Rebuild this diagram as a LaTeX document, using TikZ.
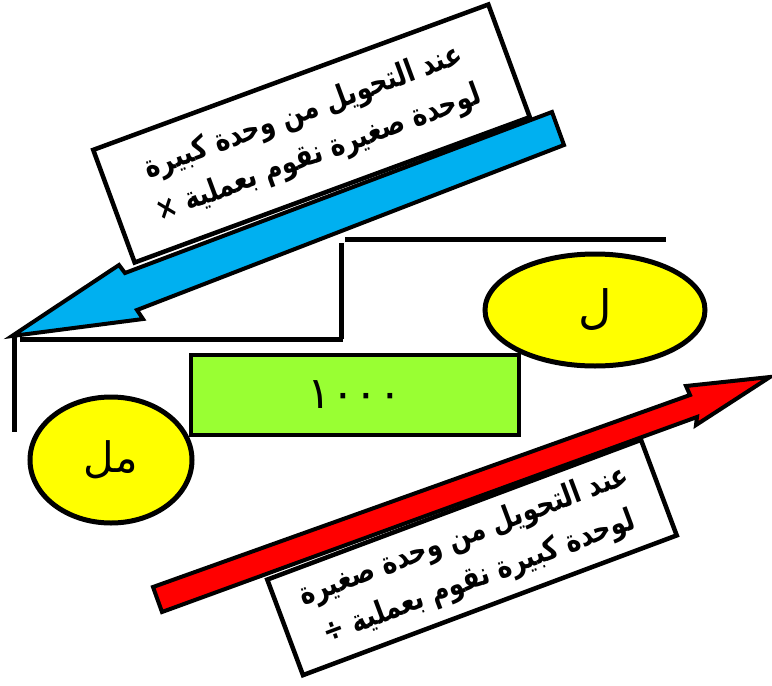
\documentclass[tikz,border=0pt]{standalone}
\usepackage{fontspec}
\usetikzlibrary{shapes.geometric}
\TeXXeTstate=1
\newfontfamily\arabicfont[Script=Arabic]{DejaVu Sans}
\definecolor{arrowblue}{HTML}{00B0F0}
\definecolor{arrowred}{HTML}{FF0000}
\definecolor{unityellow}{HTML}{FFFF00}
\definecolor{valuegreen}{HTML}{99FF33}
% one right-to-left line of note text, set a little taller than wide
\newcommand{\noteline}[1]{\scalebox{1}[1.25]{\beginR #1\endR}}
\begin{document}
\begin{tikzpicture}[x=1pt,y=-1pt,
  rail/.style={line width=5pt},
  blockarrow/.style={draw=black,line width=4pt,line join=miter,miter limit=20},
  notebox/.style={draw=black,line width=4.5pt,fill=white,inner sep=0pt,
    minimum width=#1,align=center,
    font=\arabicfont\bfseries\fontsize{25}{44}\selectfont},
  unitoval/.style={ellipse,draw=black,line width=5pt,fill=unityellow,inner sep=0pt},
  valuebox/.style={rectangle,draw=black,line width=4pt,fill=valuegreen,inner sep=0pt}]
\useasboundingbox (0,0) rectangle (772,686);

% stepped outline
\draw[rail] (14,337) -- (14,432);
\draw[rail] (20,339) -- (343,339);
\draw[rail] (341,339) -- (341,243);
\draw[rail] (345,239) -- (666,239);

% note boxes (drawn below the arrows)
\node[notebox=421pt,minimum height=120pt,rotate=20.2] (bignote) at (311.5,133.5)
  {\noteline{عند التحويل من وحدة كبيرة}\\ \noteline{لوحدة صغيرة نقوم بعملية ×}};
\node[notebox=399pt,minimum height=102pt,rotate=20.5] (smallnote) at (472,557.5)
  {\noteline{عند التحويل من وحدة صغيرة}\\ \noteline{لوحدة كبيرة نقوم بعملية ÷}};

% big-to-small arrow
\coordinate (btip) at (12,336);
\draw[blockarrow,fill=arrowblue] (btip) -- (143,319) -- (137,310) -- (564,145)
  -- (552,112) -- (125,273) -- (119,265) -- cycle;

% small-to-big arrow
\coordinate (rtip) at (770,377);
\draw[blockarrow,fill=arrowred] (153,587) -- (690,395) -- (686,386) -- (rtip)
  -- (696,425) -- (697,417) -- (162,612) -- cycle;

% units and value
\node[unitoval,minimum width=220pt,minimum height=112pt] (litre) at (595,310)
  {\arabicfont\fontsize{46}{50}\selectfont ل};
\node[unitoval,minimum width=162pt,minimum height=126pt] (millilitre) at (111,460)
  {\arabicfont\fontsize{42}{46}\selectfont\beginR مل\endR};
\node[valuebox,minimum width=328pt,minimum height=80pt] (value) at (355,395)
  {\arabicfont\fontsize{44}{48}\selectfont ١٠٠٠};
\end{tikzpicture}
\end{document}
